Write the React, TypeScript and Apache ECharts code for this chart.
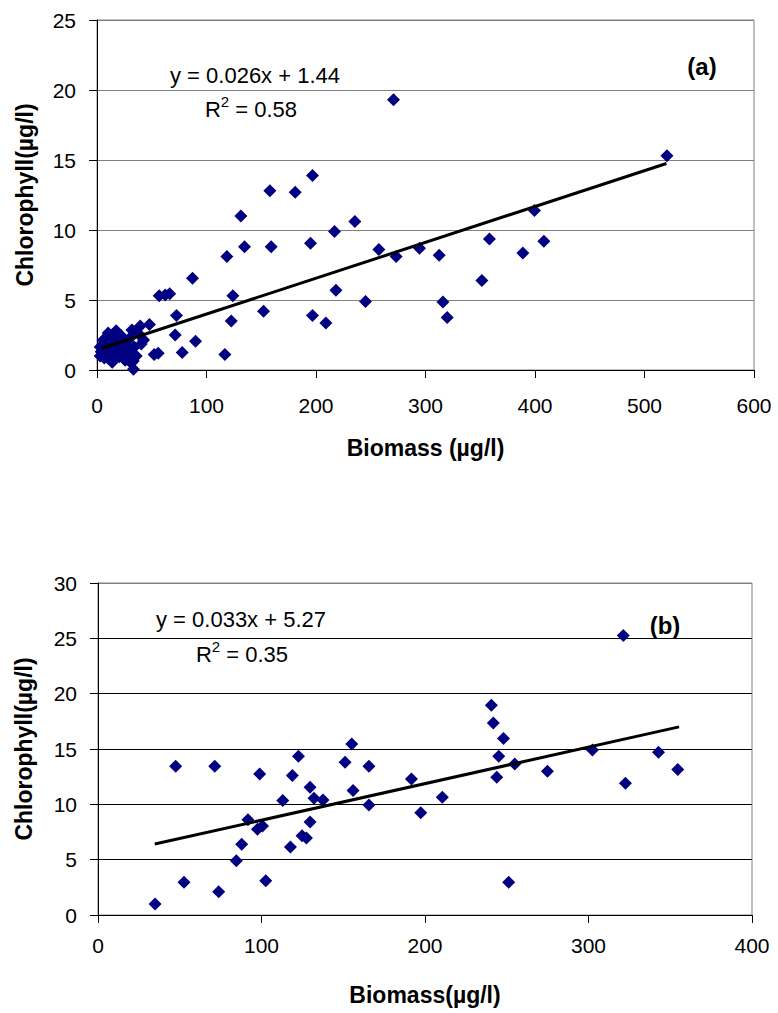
import React, { useEffect, useRef } from "react";
import * as echarts from "echarts";

// Panel (a): Biomass (µg/l) vs Chlorophyll (µg/l)
const aPoints: number[][] = [
  [270.8, 19.3], [196.8, 13.9], [157.9, 12.8], [181, 12.7], [131.4, 11.0], [235.5, 10.6],
  [216.9, 9.9], [134.7, 8.8], [159.1, 8.8], [195, 9.05], [118.6, 8.1], [257.4, 8.6],
  [273.2, 8.1], [294.5, 8.7], [87.2, 6.55], [56.8, 5.3], [62.3, 5.35], [66.4, 5.45],
  [124.1, 5.3], [218.2, 5.7], [72.6, 3.9], [122.6, 3.5], [152.1, 4.2], [196.8, 3.9],
  [209, 3.35], [245.2, 4.9], [47.9, 3.25], [71.4, 2.5], [90, 2.05], [52.2, 1.1],
  [55.9, 1.2], [77.8, 1.25], [116.8, 1.1], [33.3, 0.05], [39.5, 3.15], [31.9, 2.85],
  [42.5, 2.15], [520.5, 15.3], [399.5, 11.4], [358.4, 9.35], [408.1, 9.2], [388.9, 8.35],
  [312.5, 8.2], [351.5, 6.4], [315.9, 4.85], [319.8, 3.75],
  [5.7, 2.15], [3.8, 1.3], [6.6, 0.85], [10.2, 2.65], [12.1, 1.7], [13.9, 2.3],
  [15.7, 1.3], [17.5, 2.8], [19.4, 1.85], [20.3, 0.95], [22.1, 2.45], [23.9, 1.5],
  [25.7, 0.7], [27.6, 2.05], [29.4, 1.2], [31.2, 0.5], [34, 1.65], [10.2, 0.85],
  [2.9, 1.65], [7.5, 1.8], [2.9, 1.0], [13.9, 0.55], [18.5, 1.45], [23.0, 1.0],
  [26.7, 1.7], [30.3, 2.3], [35.8, 1.0], [38.5, 2.55], [16.6, 2.15], [11.1, 1.3],
  [33.1, 0.65], [40.4, 1.85], [24.8, 0.8]
];
const aTrend: number[][] = [[4.5, 1.55], [520, 14.75]];
const aXTicks = { min: 0, max: 600, interval: 100 };
const aYTicks = { min: 0, max: 25, interval: 5 };

// Panel (b)
const bPoints: number[][] = [
  [47.5, 13.45], [71.4, 13.45], [98.9, 12.75], [118.9, 12.6], [122.6, 14.35], [155.2, 15.45],
  [151.1, 13.8], [165.7, 13.45], [129.7, 11.55], [132.1, 10.55], [137.6, 10.4], [156, 11.25],
  [165.7, 9.95], [191.7, 12.3], [197.4, 9.25], [113, 10.35], [91.7, 8.6], [97.5, 7.75],
  [100.6, 8.05], [129.7, 8.4], [124.8, 7.15], [127.5, 6.95], [87.9, 6.4], [117.7, 6.15],
  [84.6, 4.9], [52.6, 2.95], [73.8, 2.1], [102.6, 3.1], [34.9, 1.0],
  [321.3, 25.25], [240.6, 18.95], [241.8, 17.35], [248, 15.95], [245.1, 14.35], [254.9, 13.65],
  [243.9, 12.45], [274.9, 13.0], [302.4, 14.9], [342.8, 14.7], [354.6, 13.15], [322.6, 11.9],
  [210.6, 10.65], [251.2, 2.95]
];
const bTrend: number[][] = [[34.7, 6.41], [355.4, 17.0]];
const bXTicks = { min: 0, max: 400, interval: 100 };
const bYTicks = { min: 0, max: 30, interval: 5 };

const FONT = "Liberation Sans, Arial, sans-serif";

function xAxisOf(gridIndex: number, t: any, name: string, nameGap: number, labelMargin: number) {
  return {
    type: "value", gridIndex, min: t.min, max: t.max, interval: t.interval,
    name, nameLocation: "middle", nameGap,
    nameTextStyle: { fontFamily: FONT, fontWeight: "bold", fontSize: 23, color: "#000" },
    axisLine: { show: true, onZero: false, lineStyle: { color: "#000", width: 1 } },
    axisTick: { show: true, inside: false, length: 8, lineStyle: { color: "#000" } },
    axisLabel: { fontFamily: FONT, fontSize: 21, color: "#000", margin: labelMargin },
    splitLine: { show: false },
  };
}

function yAxisOf(gridIndex: number, t: any, name: string, nameGap: number, gridColors: string[] | string) {
  return {
    type: "value", gridIndex, min: t.min, max: t.max, interval: t.interval,
    name, nameLocation: "middle", nameGap, nameRotate: 90,
    nameTextStyle: { fontFamily: FONT, fontWeight: "bold", fontSize: 23, color: "#000" },
    axisLine: { show: true, onZero: false, lineStyle: { color: "#000", width: 1 } },
    axisTick: { show: true, inside: false, length: 8, lineStyle: { color: "#000" } },
    axisLabel: { fontFamily: FONT, fontSize: 21, color: "#000", margin: 21 },
    splitLine: { show: true, lineStyle: { color: gridColors, width: 1 } },
  };
}

function scatter(xi: number, data: number[][]) {
  return {
    type: "scatter", xAxisIndex: xi, yAxisIndex: xi, data,
    symbol: "diamond", symbolSize: 13,
    itemStyle: { color: "#000080", opacity: 1 }, z: 3,
  };
}

function trend(xi: number, data: number[][]) {
  return {
    type: "line", xAxisIndex: xi, yAxisIndex: xi, data,
    symbol: "none", lineStyle: { color: "#000", width: 3 }, z: 4,
  };
}

function eqText(x: number, y: number, text: string) {
  return {
    type: "text", x, y, z: 10,
    style: {
      text, fill: "#000", fontFamily: FONT, fontSize: 22,
      align: "center", verticalAlign: "middle",
      textAlign: "center", textVerticalAlign: "middle",
    },
  };
}

function r2Text(x: number, y: number, value: string) {
  return {
    type: "text", x, y, z: 10,
    style: {
      text: "{a|R}{s|2}{a| = " + value + "}",
      fill: "#000", fontFamily: FONT, fontSize: 22,
      align: "center", verticalAlign: "middle",
      textAlign: "center", textVerticalAlign: "middle",
      rich: {
        a: { fontFamily: FONT, fontSize: 22, lineHeight: 26, fill: "#000", color: "#000", verticalAlign: "bottom" },
        s: { fontFamily: FONT, fontSize: 15, lineHeight: 16, fill: "#000", color: "#000", verticalAlign: "top" },
      },
    },
  };
}

function tagText(x: number, y: number, text: string) {
  return {
    type: "text", x, y, z: 10,
    style: {
      text, fill: "#000", fontFamily: FONT, fontSize: 24, fontWeight: "bold",
      align: "center", verticalAlign: "middle",
      textAlign: "center", textVerticalAlign: "middle",
    },
  };
}

export default function App() {
  const ref = useRef<HTMLDivElement>(null);
  useEffect(() => {
    if (!ref.current) return;
    const chart = echarts.init(ref.current, undefined, { renderer: "svg" });
    const bGridColors = ["#000", "#000", "#000", "#000", "#000", "#000", "#808080"];
    chart.setOption({
      animation: false,
      backgroundColor: "#fff",
      grid: [
        { left: 97, top: 20, width: 657, height: 350, show: true, borderColor: "#808080", borderWidth: 1, backgroundColor: "transparent" },
        { left: 98, top: 583, width: 654, height: 332, show: true, borderColor: "#808080", borderWidth: 1, backgroundColor: "transparent" },
      ],
      xAxis: [
        xAxisOf(0, aXTicks, "Biomass (µg/l)", 66, 25),
        xAxisOf(1, bXTicks, "Biomass(µg/l)", 68, 20),
      ],
      yAxis: [
        yAxisOf(0, aYTicks, "Chlorophyll(µg/l)", 61, "#808080"),
        yAxisOf(1, bYTicks, "Chlorophyll(µg/l)", 63, bGridColors),
      ],
      series: [
        scatter(0, aPoints),
        trend(0, aTrend),
        scatter(1, bPoints),
        trend(1, bTrend),
      ],
      graphic: [
        eqText(255, 75, "y = 0.026x + 1.44"),
        r2Text(251, 107, "0.58"),
        tagText(702, 66, "(a)"),
        eqText(241, 619, "y = 0.033x + 5.27"),
        r2Text(242, 652, "0.35"),
        tagText(665, 625, "(b)"),
      ],
    });
    return () => chart.dispose();
  }, []);
  return (
    <div
      ref={ref}
      style={{ position: "fixed", left: 0, top: 0, width: 778, height: 1013, background: "#fff" }}
    />
  );
}
